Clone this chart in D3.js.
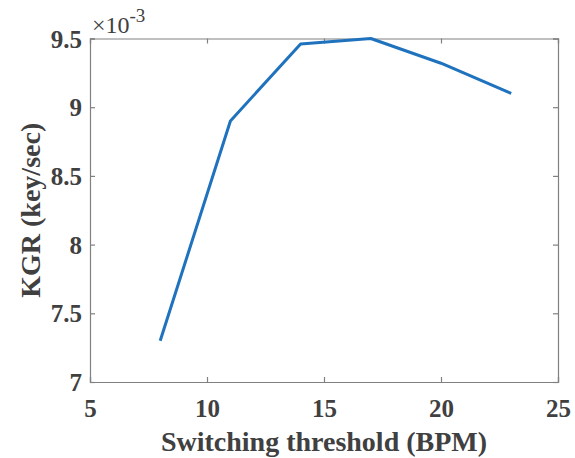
<!DOCTYPE html>
<html>
<head>
<meta charset="utf-8">
<script src="https://cdn.jsdelivr.net/npm/d3@7"></script>
<style>
  html, body { margin: 0; padding: 0; background: #fff; }
  svg { display: block; }
</style>
</head>
<body>
<svg id="chart" width="575" height="458"></svg>
<script>
// Switching threshold (BPM) vs. key generation rate (key/sec, ×10^-3)
const thresholds = [8, 11, 14, 17, 20, 23];
const kgrValues = [7.30, 8.90, 9.46, 9.50, 9.32, 9.10];
const xTicks = [5, 10, 15, 20, 25];
const yTicks = [7, 7.5, 8, 8.5, 9, 9.5];

const FONT = "'Liberation Serif', 'DejaVu Serif', serif";
const TEXT_COLOR = "#404040";

const svg = d3.select("#chart");
const margin = { left: 90, right: 17, top: 38.5, bottom: 76 };
const W = 575, H = 458;

const x = d3.scaleLinear().domain([5, 25]).range([margin.left, W - margin.right]);
const y = d3.scaleLinear().domain([7, 9.5]).range([H - margin.bottom, margin.top]);

const axisColor = "#808080";

// Bottom axis with inward ticks
const gx = svg.append("g")
  .attr("transform", `translate(0,${H - margin.bottom})`)
  .call(d3.axisBottom(x).tickValues(xTicks).tickSize(-5).tickFormat(d3.format("d")));
// Left axis with inward ticks
const gy = svg.append("g")
  .attr("transform", `translate(${margin.left},0)`)
  .call(d3.axisLeft(y).tickValues(yTicks).tickSize(-5).tickPadding(8).tickFormat(d => String(d)));
// Top and right box edges with ticks
const gt = svg.append("g")
  .attr("transform", `translate(0,${margin.top})`)
  .call(d3.axisTop(x).tickValues(xTicks).tickSize(-5).tickFormat(""));
const gr = svg.append("g")
  .attr("transform", `translate(${W - margin.right},0)`)
  .call(d3.axisRight(y).tickValues(yTicks).tickSize(-5).tickFormat(""));

[gx, gy, gt, gr].forEach(g => {
  g.attr("font-family", null).attr("font-size", null);
  g.select(".domain").attr("stroke", axisColor).attr("stroke-width", 1.2);
  g.selectAll(".tick line").attr("stroke", axisColor).attr("stroke-width", 1.2);
  g.selectAll(".tick text")
    .style("font-family", FONT)
    .style("font-size", "25px")
    .style("font-weight", "bold")
    .attr("fill", TEXT_COLOR);
});
gx.selectAll(".tick text").attr("y", 35).attr("dy", 0);
gy.selectAll(".tick text").attr("dy", "0.34em");

// Data line
const line = d3.line().x(d => x(d[0])).y(d => y(d[1]));
svg.append("path")
  .datum(thresholds.map((t, i) => [t, kgrValues[i]]))
  .attr("d", line)
  .attr("fill", "none")
  .attr("stroke", "#1f72bd")
  .attr("stroke-width", 3)
  .attr("stroke-linejoin", "round");

// Exponent marker above the y axis: base and superscript as separate labels
const expoBase = svg.append("text")
  .attr("x", 92).attr("y", 33)
  .style("font-family", FONT)
  .style("font-size", "24px")
  .attr("fill", TEXT_COLOR)
  .text("×10");
const baseWidth = expoBase.node().getComputedTextLength();
svg.append("text")
  .attr("x", 92 + baseWidth).attr("y", 22)
  .style("font-family", FONT)
  .style("font-size", "19px")
  .attr("fill", TEXT_COLOR)
  .text("-3");

// Axis titles
svg.append("text")
  .attr("x", (margin.left + W - margin.right) / 2)
  .attr("y", 451)
  .attr("text-anchor", "middle")
  .style("font-family", FONT)
  .style("font-weight", "bold")
  .style("font-size", "28px")
  .attr("fill", TEXT_COLOR)
  .text("Switching threshold (BPM)");

svg.append("text")
  .attr("transform", `translate(40,${(margin.top + H - margin.bottom) / 2}) rotate(-90)`)
  .attr("text-anchor", "middle")
  .style("font-family", FONT)
  .style("font-weight", "bold")
  .style("font-size", "28px")
  .attr("fill", TEXT_COLOR)
  .text("KGR (key/sec)");
</script>
</body>
</html>
